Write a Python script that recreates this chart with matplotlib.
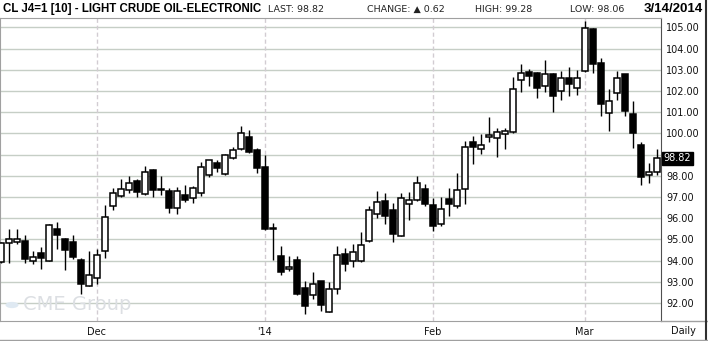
import matplotlib.pyplot as plt
import matplotlib.transforms as mtransforms
from matplotlib.patches import Circle

# daily OHLC, CL J4 light crude, Nov 2013 - 3/14/2014
opens = [93.96, 94.84, 94.90, 94.95, 94.00, 94.34, 94.00, 95.47, 95.00, 94.90,
         94.03, 92.81, 93.19, 94.47, 96.59, 97.06, 97.35, 97.77, 97.14, 98.29,
         97.40, 97.27, 96.46, 97.09, 96.95, 97.19, 98.04, 98.60, 98.09, 98.83,
         99.27, 99.84, 99.24, 98.42, 95.56, 94.24, 93.60, 94.05, 92.71, 92.38,
         93.04, 91.60, 92.67, 94.33, 94.00, 94.00, 94.92, 96.22, 96.81, 96.38,
         95.16, 96.65, 96.84, 97.38, 96.62, 95.71, 96.91, 96.56, 97.36, 99.58,
         99.25, 99.82, 99.77, 99.96, 100.06, 102.52, 102.91, 102.84, 102.22, 102.82,
         102.00, 102.59, 102.13, 102.95, 104.92, 103.34, 100.96, 101.92, 102.79, 100.93,
         99.45, 98.06, 98.20]
highs = [94.90, 95.47, 95.50, 95.22, 94.44, 94.66, 95.75, 95.83, 95.05, 95.19,
         94.12, 94.44, 94.53, 96.62, 97.42, 97.87, 98.00, 97.87, 98.48, 98.32,
         98.00, 97.43, 97.47, 97.57, 97.54, 98.67, 98.76, 98.76, 99.02, 99.38,
         100.34, 100.18, 99.30, 98.96, 95.78, 94.68, 94.24, 94.21, 93.04, 93.48,
         93.05, 93.01, 94.67, 94.62, 94.79, 95.33, 96.57, 97.29, 97.17, 96.70,
         97.17, 97.25, 98.00, 97.62, 96.94, 97.02, 97.44, 98.12, 99.65, 99.88,
         99.98, 100.75, 100.24, 100.24, 102.65, 103.28, 103.03, 102.91, 103.47, 102.85,
         102.92, 103.14, 102.98, 105.28, 104.97, 103.55, 102.07, 102.92, 102.82, 101.55,
         99.61, 98.61, 99.28]
lows = [93.90, 93.90, 94.80, 93.87, 93.84, 93.63, 93.97, 94.53, 93.56, 94.06,
        92.44, 92.80, 92.88, 94.12, 96.40, 97.00, 97.19, 97.00, 97.10, 97.00,
        97.10, 96.24, 96.21, 96.78, 96.72, 97.03, 97.94, 98.17, 98.05, 98.80,
        99.20, 99.08, 98.14, 95.43, 94.05, 93.33, 93.52, 92.38, 91.47, 92.20,
        91.63, 91.58, 92.43, 93.53, 93.70, 93.95, 94.90, 96.03, 95.75, 94.87,
        95.15, 95.90, 96.80, 96.57, 95.40, 95.65, 96.12, 96.50, 96.67, 98.57,
        99.02, 99.61, 98.90, 99.25, 100.00, 101.94, 102.25, 101.66, 101.94, 101.03,
        101.59, 101.77, 101.81, 102.90, 102.85, 100.84, 100.11, 101.59, 100.84, 99.32,
        97.59, 97.67, 98.06]
closes = [94.83, 95.03, 95.00, 94.10, 94.19, 94.12, 95.69, 95.20, 94.50, 94.16,
          92.90, 93.34, 94.28, 96.06, 97.19, 97.38, 97.66, 97.22, 98.20, 97.31,
          97.35, 96.46, 97.28, 96.84, 97.41, 98.42, 98.73, 98.37, 98.99, 99.22,
          100.00, 99.14, 98.36, 95.47, 95.50, 93.45, 93.70, 92.43, 91.85, 92.92,
          91.90, 92.67, 94.25, 93.86, 94.41, 94.76, 96.38, 96.76, 96.11, 95.27,
          96.94, 96.86, 97.65, 96.65, 95.63, 96.42, 96.67, 97.31, 99.35, 99.38,
          99.44, 99.91, 100.06, 100.12, 102.09, 102.84, 102.69, 102.13, 102.81, 101.77,
          102.59, 102.32, 102.59, 104.95, 103.28, 101.40, 101.55, 102.59, 101.06, 100.00,
          97.93, 98.20, 98.82]

month_pos = [12, 33, 54, 73]
month_labels = ["Dec", "'14", "Feb", "Mar"]
price_ticks = list(range(92, 106))
last_price = 98.82

W, H = 708, 341
fig = plt.figure(figsize=(W / 100, H / 100), dpi=100)
fig.patch.set_facecolor("white")


def fx(px):
    return px / W


def fy(py):
    return 1 - py / H


ax = fig.add_axes([0, fy(321), fx(661), (321 - 18) / H])

# grid
for p in price_ticks:
    ax.axhline(p, color="#c6cec6", linewidth=1.0, zorder=1)
for m in month_pos:
    ax.axvline(m, color="#d2ccd2", linewidth=1.0, linestyle=(0, (3, 2)), zorder=1)

# candles
x = list(range(len(opens)))
ax.vlines(x, lows, highs, color="black", linewidth=1.0, zorder=3)
ax.bar(x, [c - o for o, c in zip(opens, closes)], bottom=opens, width=0.72,
       color=["white" if c >= o else "black" for o, c in zip(opens, closes)],
       edgecolor="black", linewidth=1.1, zorder=4)

ax.set_xlim(-0.09, 82.54)
ax.set_ylim(91.155, 105.44)
ax.yaxis.tick_right()
ax.set_yticks(price_ticks)
# the 99.00 label sits under the last-price flag
ax.set_yticklabels(["" if p == 99 else f"{p:.2f}" for p in price_ticks])
ax.set_xticks(month_pos)
ax.set_xticklabels(month_labels)
ax.tick_params(axis="y", length=0, pad=3.8, labelsize=7, labelcolor="#111111")
ax.tick_params(axis="x", length=0, pad=4.5, labelsize=7, labelcolor="#111111")
for side in ["left", "top", "bottom"]:
    ax.spines[side].set_color("#a0a0a0")
ax.spines["right"].set_color("#505050")

# last price flag
trans = mtransforms.blended_transform_factory(ax.transAxes, ax.transData)
ax.text(1.004, last_price, f"{last_price:.2f}", transform=trans, ha="left",
        va="center", fontsize=7, color="white", zorder=6,
        bbox=dict(boxstyle="square,pad=0.18", fc="black", ec="black"))

# watermark
fig.patches.append(Circle((fx(12), fy(305)), 6.5 / W, transform=fig.transFigure,
                          facecolor="#dfe9f2", edgecolor="none", zorder=0))
ax.text(0.035, 0.055, "CME Group", transform=ax.transAxes, fontsize=14,
        color="#dcdfe3", va="center", ha="left", zorder=2)

# header
fig.text(fx(3), fy(9), "CL J4=1 [10] - LIGHT CRUDE OIL-ELECTRONIC", family="Liberation Sans",
         fontsize=8.3, fontweight="bold", va="center", ha="left")
fig.text(fx(268), fy(9), "LAST: 98.82", fontsize=6.8, va="center", ha="left", color="#222222")
fig.text(fx(367), fy(9), "CHANGE: \u25b2 0.62", fontsize=6.8, va="center", ha="left", color="#222222")
fig.text(fx(475), fy(9), "HIGH: 99.28", fontsize=6.8, va="center", ha="left", color="#222222")
fig.text(fx(570), fy(9), "LOW: 98.06", fontsize=6.8, va="center", ha="left", color="#222222")
fig.text(fx(703), fy(9), "3/14/2014", family="Liberation Sans", fontsize=9.5,
         fontweight="bold", va="center", ha="right")
fig.text(fx(683), fy(331), "Daily", fontsize=7, va="center", ha="center", color="#111111")

# frame lines outside the axes
fig.add_artist(plt.Line2D([fx(661), 1], [fy(321), fy(321)], transform=fig.transFigure,
                          color="#a0a0a0", linewidth=1.0))
fig.add_artist(plt.Line2D([fx(705.5), fx(705.5)], [0, 1], transform=fig.transFigure,
                          color="#303030", linewidth=1.5))
fig.add_artist(plt.Line2D([0, 1], [fy(340), fy(340)], transform=fig.transFigure,
                          color="#a0a0a0", linewidth=1.0))

fig.savefig("out.png", dpi=100, facecolor="white")
